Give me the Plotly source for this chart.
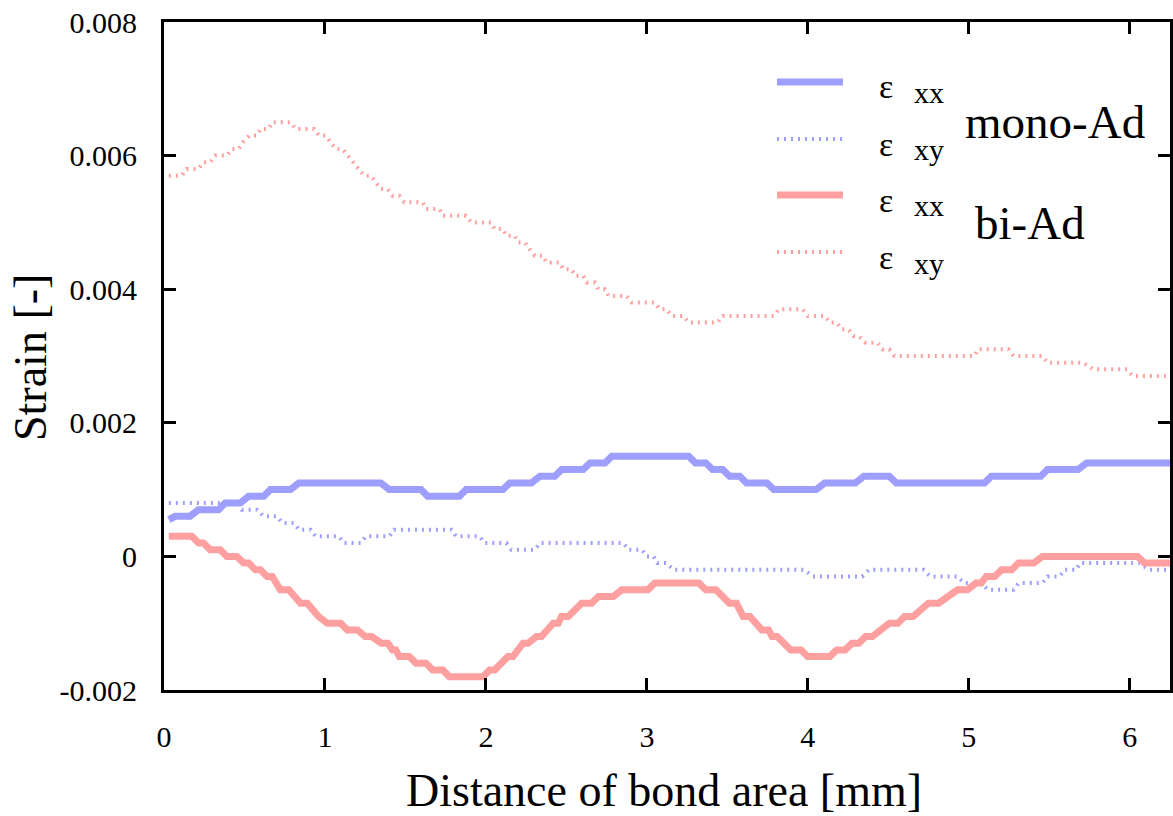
import plotly.graph_objects as go

# ---------------- data ----------------
mono_xx_x = [0.03, 0.069, 0.162, 0.214, 0.339, 0.380, 0.474, 0.526, 0.620, 0.661, 0.786, 0.838, 1.347,
             1.399, 1.597, 1.638, 1.836, 1.877, 2.106, 2.148, 2.283, 2.335, 2.428, 2.470, 2.605, 2.647,
             2.740, 2.782, 3.260, 3.302, 3.366, 3.408, 3.471, 3.513, 3.577, 3.619, 3.746, 3.788, 4.052,
             4.105, 4.295, 4.348, 4.506, 4.549, 5.098, 5.140, 5.447, 5.489, 5.679, 5.732, 6.25]
mono_xx_y = [0.00055, 0.0006, 0.0006, 0.0007, 0.0007, 0.0008, 0.0008, 0.0009, 0.0009, 0.0010, 0.0010,
             0.0011, 0.0011, 0.0010, 0.0010, 0.0009, 0.0009, 0.0010, 0.0010, 0.0011, 0.0011, 0.0012,
             0.0012, 0.0013, 0.0013, 0.0014, 0.0014, 0.0015, 0.0015, 0.0014, 0.0014, 0.0013, 0.0013,
             0.0012, 0.0012, 0.0011, 0.0011, 0.0010, 0.0010, 0.0011, 0.0011, 0.0012, 0.0012, 0.0011,
             0.0011, 0.0012, 0.0012, 0.0013, 0.0013, 0.0014, 0.0014]

mono_xy_x = [0.03, 0.464, 0.484, 0.578, 0.620, 0.703, 0.734, 0.807, 0.838, 0.911, 0.942, 1.087, 1.119,
             1.222, 1.254, 1.399, 1.430, 1.784, 1.815, 1.960, 1.992, 2.127, 2.158, 2.304, 2.335, 2.854,
             2.886, 2.969, 3.000, 3.042, 3.065, 3.123, 3.165, 3.978, 4.031, 4.337, 4.380, 4.718, 4.760,
             4.929, 4.971, 5.077, 5.120, 5.278, 5.309, 5.457, 5.489, 5.563, 5.595, 5.668, 5.690, 6.060,
             6.120, 6.25]
mono_xy_y = [0.0008, 0.0008, 0.0007, 0.0007, 0.0006, 0.0006, 0.0005, 0.0005, 0.0004, 0.0004, 0.0003,
             0.0003, 0.0002, 0.0002, 0.0003, 0.0003, 0.0004, 0.0004, 0.0003, 0.0003, 0.0002, 0.0002,
             0.0001, 0.0001, 0.0002, 0.0002, 0.0001, 0.0001, 0.0, 0.0, -0.0001, -0.0001, -0.0002,
             -0.0002, -0.0003, -0.0003, -0.0002, -0.0002, -0.0003, -0.0003, -0.0004, -0.0004, -0.0005,
             -0.0005, -0.0004, -0.0004, -0.0003, -0.0003, -0.0002, -0.0002, -0.0001, -0.0001, -0.0002,
             -0.0002]

bi_xx_x = [0.03, 0.173, 0.215, 0.245, 0.287, 0.349, 0.391, 0.453, 0.495, 0.526, 0.568, 0.599, 0.640,
           0.672, 0.723, 0.775, 0.848, 0.890, 0.960, 1.015, 1.098, 1.139, 1.202, 1.250, 1.290, 1.350,
           1.390, 1.420, 1.440, 1.462, 1.524, 1.566, 1.628, 1.669, 1.732, 1.773, 1.981, 2.023, 2.054,
           2.137, 2.168, 2.200, 2.231, 2.262, 2.314, 2.345, 2.418, 2.449, 2.470, 2.511, 2.595, 2.657,
           2.699, 2.792, 2.844, 3.006, 3.049, 3.323, 3.366, 3.429, 3.470, 3.513, 3.556, 3.598, 3.640,
           3.714, 3.756, 3.778, 3.809, 3.894, 3.957, 3.999, 4.137, 4.179, 4.232, 4.274, 4.316, 4.359,
           4.401, 4.450, 4.506, 4.559, 4.601, 4.654, 4.700, 4.749, 4.813, 4.870, 4.929, 4.992, 5.045,
           5.077, 5.109, 5.161, 5.204, 5.267, 5.309, 5.404, 5.457, 6.049, 6.091, 6.25]
bi_xx_y = [0.0003, 0.0003, 0.0002, 0.0002, 0.0001, 0.0001, 0.0, 0.0, -0.0001, -0.0001, -0.0002, -0.0002,
           -0.0003, -0.0003, -0.0005, -0.0005, -0.0007, -0.0007, -0.0009, -0.0010, -0.0010, -0.0011,
           -0.0011, -0.0012, -0.0012, -0.0013, -0.0013, -0.0014, -0.0014, -0.0015, -0.0015, -0.0016,
           -0.0016, -0.0017, -0.0017, -0.0018, -0.0018, -0.0017, -0.0017, -0.0015, -0.0015, -0.0014,
           -0.0013, -0.0013, -0.0012, -0.0012, -0.0010, -0.0010, -0.0009, -0.0009, -0.0007, -0.0007,
           -0.0006, -0.0006, -0.0005, -0.0005, -0.0004, -0.0004, -0.0005, -0.0005, -0.0006, -0.0007,
           -0.0007, -0.0009, -0.0009, -0.0011, -0.0011, -0.0012, -0.0012, -0.0014, -0.0014, -0.0015,
           -0.0015, -0.0014, -0.0014, -0.0013, -0.0013, -0.0012, -0.0012, -0.0011, -0.0010, -0.0010,
           -0.0009, -0.0009, -0.0008, -0.0007, -0.0007, -0.0006, -0.0005, -0.0005, -0.0004, -0.0004,
           -0.0003, -0.0003, -0.0002, -0.0002, -0.0001, -0.0001, 0.0, 0.0, -0.0001, -0.0001]

bi_xy_x = [0.03, 0.110, 0.141, 0.214, 0.245, 0.287, 0.318, 0.391, 0.422, 0.464, 0.490, 0.532, 0.578,
           0.599, 0.651, 0.672, 0.786, 0.817, 0.931, 0.963, 1.004, 1.066, 1.108, 1.243, 1.285, 1.347,
           1.389, 1.420, 1.462, 1.493, 1.607, 1.628, 1.711, 1.732, 1.877, 1.909, 2.033, 2.054, 2.106,
           2.127, 2.179, 2.200, 2.241, 2.304, 2.356, 2.376, 2.459, 2.480, 2.532, 2.553, 2.605, 2.626,
           2.678, 2.699, 2.740, 2.761, 2.875, 2.906, 3.049, 3.080, 3.123, 3.154, 3.228, 3.260, 3.439,
           3.471, 3.788, 3.820, 3.968, 3.999, 4.105, 4.137, 4.179, 4.211, 4.253, 4.285, 4.316, 4.359,
           4.432, 4.464, 4.506, 4.538, 5.035, 5.056, 5.246, 5.278, 5.457, 5.489, 5.711, 5.774, 5.985,
           6.017, 6.25]
bi_xy_y = [0.0057, 0.0057, 0.0058, 0.0058, 0.0059, 0.0059, 0.0060, 0.0060, 0.0061, 0.0061, 0.0062,
           0.0063, 0.0063, 0.0064, 0.0064, 0.0065, 0.0065, 0.0064, 0.0064, 0.0063, 0.0063, 0.0061,
           0.0061, 0.0057, 0.0057, 0.0055, 0.0055, 0.0054, 0.0054, 0.0053, 0.0053, 0.0052, 0.0052,
           0.0051, 0.0051, 0.0050, 0.0050, 0.0049, 0.0049, 0.0048, 0.0048, 0.0047, 0.0047, 0.0045,
           0.0045, 0.0044, 0.0044, 0.0043, 0.0043, 0.0042, 0.0042, 0.0041, 0.0041, 0.0040, 0.0040,
           0.0039, 0.0039, 0.0038, 0.0038, 0.0037, 0.0037, 0.0036, 0.0036, 0.0035, 0.0035, 0.0036,
           0.0036, 0.0037, 0.0037, 0.0036, 0.0036, 0.0035, 0.0035, 0.0034, 0.0034, 0.0033, 0.0033,
           0.0032, 0.0032, 0.0031, 0.0031, 0.0030, 0.0030, 0.0031, 0.0031, 0.0030, 0.0030, 0.0029,
           0.0029, 0.0028, 0.0028, 0.0027, 0.0027]

x_ticks = [0, 1, 2, 3, 4, 5, 6]
y_ticks = [-0.002, 0, 0.002, 0.004, 0.006, 0.008]
y_tick_text = ["-0.002", "0", "0.002", "0.004", "0.006", "0.008"]
x_title = "Distance of bond area [mm]"
y_title = "Strain [-]"

# ---------------- styling ----------------
BLUE = "rgb(158,158,255)"
RED = "rgb(255,160,160)"
FONT = "Liberation Serif"
DOT = "2px,5px"

fig = go.Figure()
fig.add_trace(go.Scatter(x=mono_xx_x, y=mono_xx_y, mode="lines",
                         line=dict(color=BLUE, width=7), name="mono εxx"))
fig.add_trace(go.Scatter(x=mono_xy_x, y=mono_xy_y, mode="lines",
                         line=dict(color=BLUE, width=4, dash=DOT), name="mono εxy"))
fig.add_trace(go.Scatter(x=bi_xx_x, y=bi_xx_y, mode="lines",
                         line=dict(color=RED, width=7), name="bi εxx"))
fig.add_trace(go.Scatter(x=bi_xy_x, y=bi_xy_y, mode="lines",
                         line=dict(color=RED, width=4, dash=DOT), name="bi εxy"))

# ---------------- manual legend ----------------
L, R, T, B = 164, 1170, 22, 690
W, H = R - L, B - T
def px(x):
    return (x - L) / W
def py(y):
    return (B - y) / H

rows = [(82, BLUE, None, "xx"), (139, BLUE, DOT, "xy"), (195, RED, None, "xx"), (252, RED, DOT, "xy")]
for yy, col, dash, sub in rows:
    fig.add_shape(type="line", xref="paper", yref="paper",
                  x0=px(777), x1=px(843), y0=py(yy), y1=py(yy),
                  line=dict(color=col, width=4 if dash else 7, dash=dash or "solid"))
    fig.add_annotation(xref="paper", yref="paper", x=px(886), y=py(yy + 5), text="ε",
                       showarrow=False, font=dict(family=FONT, size=34, color="black"),
                       xanchor="center", yanchor="middle")
    fig.add_annotation(xref="paper", yref="paper", x=px(912), y=py(yy + 11), text=sub,
                       showarrow=False, font=dict(family=FONT, size=30, color="black"),
                       xanchor="left", yanchor="middle")

fig.add_annotation(xref="paper", yref="paper", x=px(1055), y=py(122), text="mono-Ad",
                   showarrow=False, font=dict(family=FONT, size=47, color="black"),
                   xanchor="center", yanchor="middle")
fig.add_annotation(xref="paper", yref="paper", x=px(1030), y=py(223), text="bi-Ad",
                   showarrow=False, font=dict(family=FONT, size=47, color="black"),
                   xanchor="center", yanchor="middle")

# axis titles
fig.add_annotation(xref="paper", yref="paper", x=px(664), y=py(790), text=x_title,
                   showarrow=False, font=dict(family=FONT, size=46, color="black"),
                   xanchor="center", yanchor="middle")
fig.add_annotation(xref="paper", yref="paper", x=px(30), y=py(358), text=y_title, textangle=-90,
                   showarrow=False, font=dict(family=FONT, size=46, color="black"),
                   xanchor="center", yanchor="middle")

axis_common = dict(showline=True, linecolor="black", linewidth=3, mirror="ticks",
                   ticks="inside", ticklen=12, tickwidth=3, tickcolor="black",
                   showgrid=False, zeroline=False, automargin=False,
                   tickfont=dict(family=FONT, size=30, color="black"))

fig.update_xaxes(range=[0, 6.25], tickmode="array", tickvals=x_ticks,
                 ticklabelstandoff=18, **axis_common)
fig.update_yaxes(range=[-0.002, 0.008], tickmode="array", tickvals=y_ticks, ticktext=y_tick_text,
                 ticklabelstandoff=18, **axis_common)

fig.update_layout(width=1173, height=816, autosize=False,
                  font=dict(family=FONT, color="black"),
                  margin=dict(l=L, r=1173 - R, t=T, b=816 - B),
                  paper_bgcolor="white", plot_bgcolor="white",
                  showlegend=False)

fig.write_html("out.html")
